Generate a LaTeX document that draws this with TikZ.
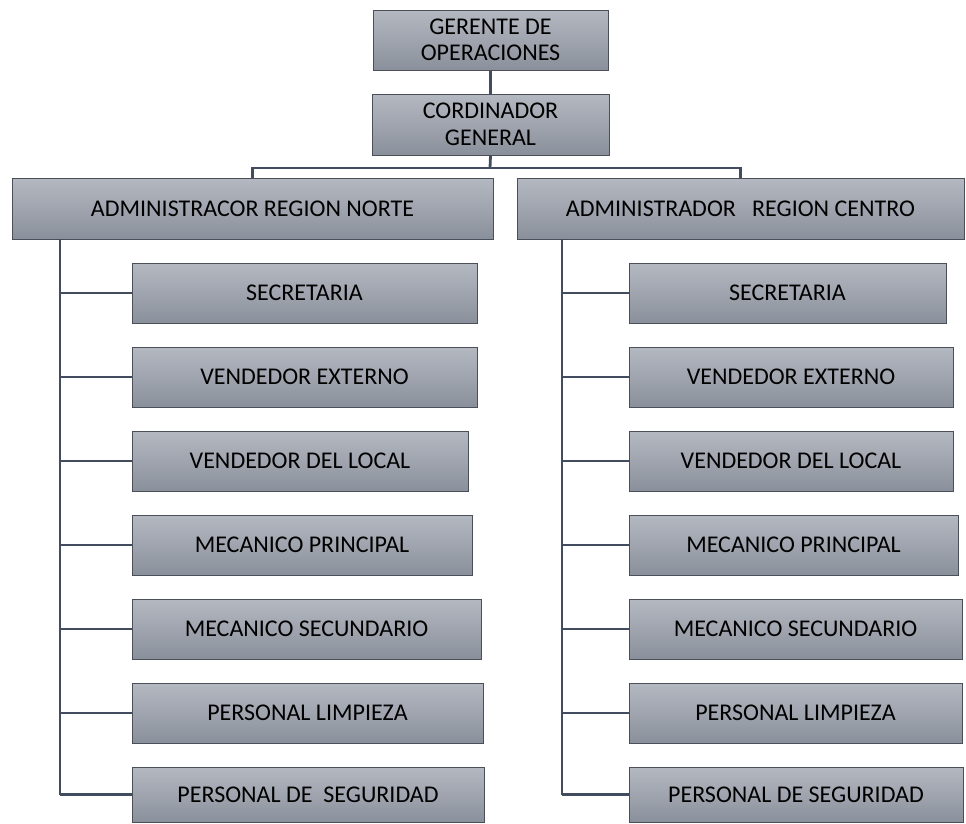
\documentclass[tikz,border=0pt]{standalone}
\usepackage{fontspec}
\setmainfont{Carlito}
\definecolor{boxtop}{HTML}{B4B8C1}
\definecolor{boxbot}{HTML}{8A909B}
\definecolor{boxline}{HTML}{4A4F58}
\definecolor{wire}{HTML}{414C5E}
\tikzset{
  orgbox/.style={draw=boxline, line width=1pt, top color=boxtop, bottom color=boxbot,
    inner sep=0pt, align=center, font=\fontsize{24}{26.5}\selectfont, text=black},
  wireline/.style={draw=wire, line width=2.8pt},
}
\newcommand{\orgnode}[6]{% name, x1, y1, x2, y2, text
  \node[orgbox, minimum width={#4-#2}, minimum height={#5-#3}] (#1) at ({(#2+#4)/2},{(#3+#5)/2}) {#6};
}
\begin{document}
\begin{tikzpicture}[x=1pt,y=-1pt]
\useasboundingbox (0,0) rectangle (966,823);
% top
\orgnode{ger}{373}{10}{608}{70}{GERENTE DE\\OPERACIONES}
\orgnode{cor}{372}{94}{609}{155}{CORDINADOR\\GENERAL}
\orgnode{nor}{12}{178}{493}{239}{ADMINISTRACOR REGION NORTE}
\orgnode{cen}{517}{178}{964}{239}{ADMINISTRADOR\ \ \ REGION CENTRO}
% left children
\orgnode{l1}{132}{263}{477}{323}{SECRETARIA}
\orgnode{l2}{132}{347}{477}{407}{VENDEDOR EXTERNO}
\orgnode{l3}{132}{431}{468}{491}{VENDEDOR DEL LOCAL}
\orgnode{l4}{132}{515}{472}{575}{MECANICO PRINCIPAL}
\orgnode{l5}{132}{599}{481}{659}{MECANICO SECUNDARIO}
\orgnode{l6}{132}{683}{483}{743}{PERSONAL LIMPIEZA}
\orgnode{l7}{132}{767}{484}{822.5}{PERSONAL DE\ \ SEGURIDAD}
% right children
\orgnode{r1}{629}{263}{946}{323}{SECRETARIA}
\orgnode{r2}{629}{347}{953}{407}{VENDEDOR EXTERNO}
\orgnode{r3}{629}{431}{953}{491}{VENDEDOR DEL LOCAL}
\orgnode{r4}{629}{515}{958}{575}{MECANICO PRINCIPAL}
\orgnode{r5}{629}{599}{962}{659}{MECANICO SECUNDARIO}
\orgnode{r6}{629}{683}{962}{743}{PERSONAL LIMPIEZA}
\orgnode{r7}{629}{767}{963}{822.5}{PERSONAL DE SEGURIDAD}
% connectors
\coordinate (bus) at (490,168);
\coordinate (tl) at (60,239);
\coordinate (tr) at (562,239);
\draw[wireline] (ger.south) -- (cor.north);
\draw[wireline] (cor.south) -- (bus);
\draw[wireline] (nor.north) |- (bus) -| (cen.north);
\draw[wireline] (tl) -- (tl |- l7.west);
\draw[wireline] (tr) -- (tr |- r7.west);
\foreach \n in {l1,l2,l3,l4,l5,l6,l7} {\draw[wireline] (tl |- \n.west) -- (\n.west);}
\foreach \n in {r1,r2,r3,r4,r5,r6,r7} {\draw[wireline] (tr |- \n.west) -- (\n.west);}
\end{tikzpicture}
\end{document}
